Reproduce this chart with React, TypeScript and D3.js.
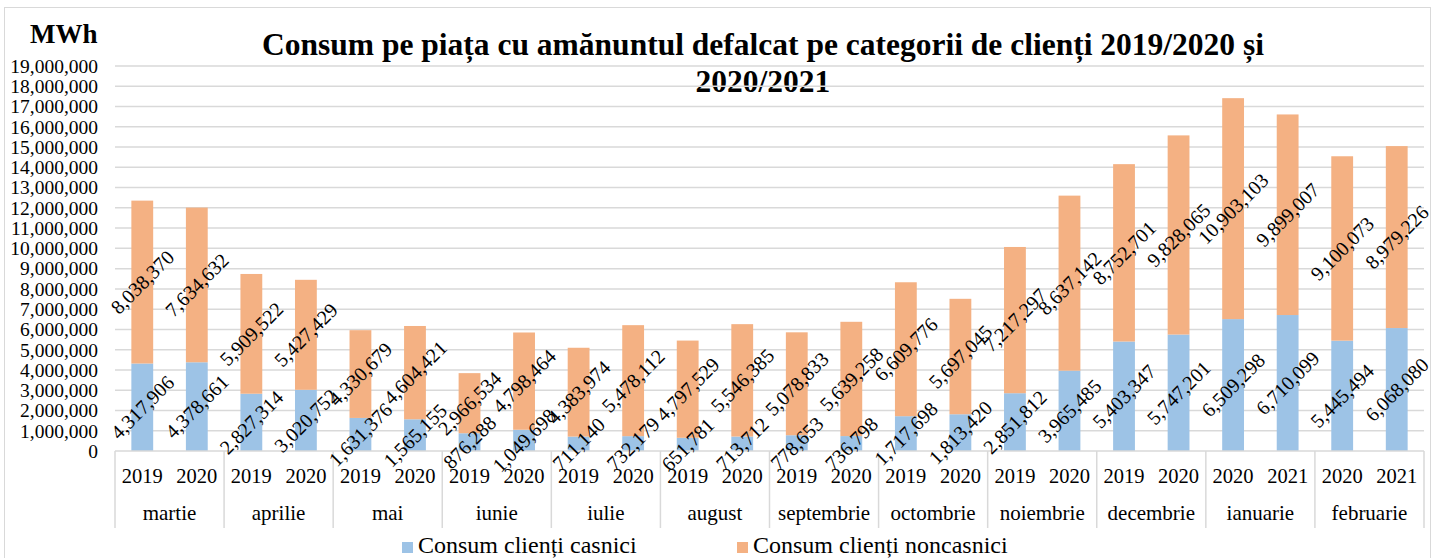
import * as d3 from "d3";

const months = ["martie", "aprilie", "mai", "iunie", "iulie", "august", "septembrie", "octombrie", "noiembrie", "decembrie", "ianuarie", "februarie"];
const years = [
  ["2019", "2020"], ["2019", "2020"], ["2019", "2020"], ["2019", "2020"],
  ["2019", "2020"], ["2019", "2020"], ["2019", "2020"], ["2019", "2020"],
  ["2019", "2020"], ["2019", "2020"], ["2020", "2021"], ["2020", "2021"],
];
// Consum clienți casnici, two values per month
const casnici = [
  4317906, 4378661, 2827314, 3020752, 1631376, 1565155, 876288, 1049698,
  711140, 732179, 651781, 713712, 778653, 736798, 1717698, 1813420,
  2851812, 3965485, 5403347, 5747201, 6509298, 6710099, 5445494, 6068080,
];
// Consum clienți noncasnici
const noncasnici = [
  8038370, 7634632, 5909522, 5427429, 4330679, 4604421, 2966534, 4798464,
  4383974, 5478112, 4797529, 5546385, 5078833, 5639258, 6609776, 5697045,
  7217297, 8637142, 8752701, 9828065, 10903103, 9899007, 9100073, 8979226,
];
const seriesNames = ["Consum clienți casnici", "Consum clienți noncasnici"];
const colors = ["#9dc3e6", "#f4b183"];

const W = 1435;
const H = 558;
const left = 115;
const right = 1424;
const top = 66;
const bottom = 451;
const font = { fontFamily: "Liberation Serif" };

export default function App() {
  const keys = months.flatMap((m, i) => years[i].map((y) => `${m}|${y}`));
  const x = d3.scaleBand<string>().domain(keys).range([left, right]).paddingInner(0.6).paddingOuter(0.3);
  const xm = d3.scaleBand<string>().domain(months).range([left, right]);
  const y = d3.scaleLinear().domain([0, 19000000]).range([bottom, top]);
  const ticks = d3.range(0, 19000001, 1000000);
  const fmt = d3.format(",");

  const rows = keys.map((k, i) => ({ key: k, year: k.split("|")[1], a: casnici[i], b: noncasnici[i] }));
  const stack = d3.stack<any>().keys(["a", "b"])(rows);

  return (
    <svg width={W} height={H} style={{ position: "absolute", left: 0, top: 0, ...font }}>
      <rect x={0} y={0} width={W} height={H} fill="#fff" />
      <rect x={4.5} y={7.5} width={1426} height={H} fill="none" stroke="#d9d9d9" />

      <g style={font}>
        <text x={30} y={43} fontSize={27} fontWeight="bold">MWh</text>
        <text x={763} y={55} fontSize={31.5} fontWeight="bold" textAnchor="middle">
          Consum pe piața cu amănuntul defalcat pe categorii de clienți 2019/2020 și
        </text>
        <text x={763} y={92} fontSize={31.5} fontWeight="bold" textAnchor="middle">2020/2021</text>

        {ticks.map((t) => (
          <g key={t}>
            {t > 0 && <line x1={left} x2={right} y1={y(t)} y2={y(t)} stroke="#d9d9d9" strokeWidth={1.5} />}
            <text x={98} y={y(t)} dy="0.35em" fontSize={19.5} textAnchor="end">{fmt(t)}</text>
          </g>
        ))}

        {stack.map((s, si) => (
          <g key={si} fill={colors[si]}>
            {s.map((d: any) => (
              <rect key={d.data.key} x={x(d.data.key)} width={x.bandwidth()} y={y(d[1])} height={y(d[0]) - y(d[1])} />
            ))}
          </g>
        ))}

        {/* category axis */}
        <line x1={left} x2={right} y1={bottom} y2={bottom} stroke="#d9d9d9" strokeWidth={1.5} />
        {[...months.map((m) => xm(m)!), right].map((v, i) => (
          <line key={i} x1={v} x2={v} y1={bottom} y2={528} stroke="#d9d9d9" strokeWidth={1.5} />
        ))}
        {rows.map((r) => (
          <text key={r.key} x={x(r.key)! + x.bandwidth() / 2} y={483} fontSize={20.5} textAnchor="middle">{r.year}</text>
        ))}
        {months.map((m) => (
          <text key={m} x={xm(m)! + xm.bandwidth() / 2} y={520} fontSize={21} textAnchor="middle">{m}</text>
        ))}

        {/* data labels */}
        {stack.map((s, si) => (
          <g key={si} fontSize={20} textAnchor="middle">
            {s.map((d: any) => {
              const cx = x(d.data.key)! + x.bandwidth() / 2;
              const cy = (y(d[0]) + y(d[1])) / 2;
              return (
                <text key={d.data.key} transform={`translate(${cx},${cy}) rotate(-45)`} dy="0.35em">
                  {fmt(d[1] - d[0])}
                </text>
              );
            })}
          </g>
        ))}

        {/* legend */}
        {seriesNames.map((n, i) => {
          const lx = [402, 737][i];
          return (
            <g key={n}>
              <rect x={lx} y={542} width={11} height={11} fill={colors[i]} />
              <text x={lx + 16} y={553} fontSize={24}>{n}</text>
            </g>
          );
        })}
      </g>
    </svg>
  );
}
